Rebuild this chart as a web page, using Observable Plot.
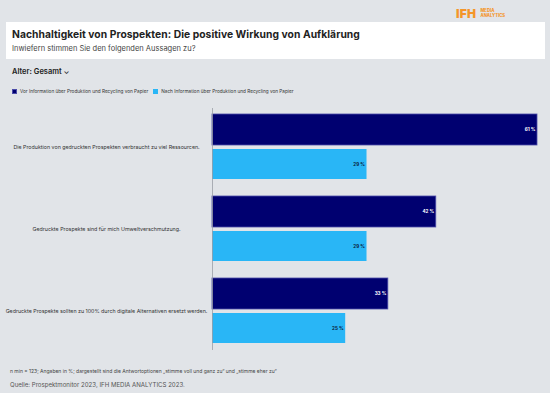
<!DOCTYPE html>
<html><head><meta charset="utf-8">
<script src="https://cdn.jsdelivr.net/npm/d3@7"></script>
<script src="https://cdn.jsdelivr.net/npm/@observablehq/plot@0.6"></script>
<style>
html,body{margin:0;padding:0;}
body{width:550px;height:393px;background:#e1e4e8;font-family:Inter,"Open Sans",sans-serif;color:#222;position:relative;overflow:hidden;}
.abs{position:absolute;white-space:nowrap;}
#logo{top:6px;left:456px;color:#f4952a;display:flex;align-items:center;}
#logo .ifh{font-weight:900;font-size:12px;letter-spacing:0.3px;}
#logo .ma{font-weight:800;font-size:4.2px;line-height:4.4px;margin-left:4px;}
#box{top:22px;left:6px;width:539px;height:37px;background:#fff;}
#title{top:28px;left:12px;font-size:10.3px;font-weight:700;color:#222;letter-spacing:0.05px;}
#sub{top:44px;left:12px;font-size:7.5px;color:#444;}
#alter{top:67px;left:12px;font-size:7.5px;font-weight:600;color:#222;}
#legend{top:88px;left:12px;font-size:4.7px;color:#333;display:flex;align-items:center;}
#legend .sw{width:5px;height:5px;display:inline-block;margin-right:3px;box-sizing:border-box;}
#legend .it{display:flex;align-items:center;margin-right:5px;}
#chart{top:100px;left:0;}
#note{top:368px;left:10px;font-size:5px;color:#444;}
#src{top:381px;left:10px;font-size:6.1px;color:#555;}
</style></head>
<body>
<div id="logo" class="abs"><span class="ifh">IFH</span><span class="ma">MEDIA<br>ANALYTICS</span></div>
<div id="box" class="abs"></div>
<div id="title" class="abs">Nachhaltigkeit von Prospekten: Die positive Wirkung von Aufklärung</div>
<div id="sub" class="abs">Inwiefern stimmen Sie den folgenden Aussagen zu?</div>
<div id="alter" class="abs">Alter: Gesamt &#8964;</div>
<div id="legend" class="abs"></div>
<div id="chart" class="abs"></div>
<div id="note" class="abs">n min = 123; Angaben in %; dargestellt sind die Antwortoptionen „stimme voll und ganz zu“ und „stimme eher zu“</div>
<div id="src" class="abs">Quelle: Prospektmonitor 2023, IFH MEDIA ANALYTICS 2023.</div>
<script>
const statements = [
  "Die Produktion von gedruckten Prospekten verbraucht zu viel Ressourcen.",
  "Gedruckte Prospekte sind für mich Umweltverschmutzung.",
  "Gedruckte Prospekte sollten zu 100% durch digitale Alternativen ersetzt werden."
];
const series = [
  "Vor Information über Produktion und Recycling von Papier",
  "Nach Information über Produktion und Recycling von Papier"
];
const before = [61, 42, 33];
const after = [29, 29, 25];
const colors = ["#000070", "#29b6f6"];
const strokes = ["#4b4ba8", "#29b6f6"];

const lg = document.getElementById("legend");
series.forEach((s, i) => {
  const it = document.createElement("span");
  it.className = "it";
  it.innerHTML = `<span class="sw" style="background:${colors[i]};border:0.6px solid ${strokes[i]}"></span>${s}`;
  lg.appendChild(it);
});

const dataBefore = statements.map((s, i) => ({statement: s, value: before[i]}));
const dataAfter = statements.map((s, i) => ({statement: s, value: after[i]}));

const chart = Plot.plot({
  width: 550,
  height: 255,
  marginLeft: 212,
  marginRight: 13,
  marginTop: 8,
  marginBottom: 5,
  style: {background: "transparent", fontFamily: "Inter, 'Open Sans', sans-serif"},
  x: {domain: [0, 61], axis: null},
  y: {domain: statements, axis: null, paddingInner: 0.207, paddingOuter: 0.079},
  marks: [
    Plot.barX(dataBefore, {x: "value", y: "statement", fill: colors[0], stroke: strokes[0], strokeWidth: 0.8, insetBottom: 34}),
    Plot.barX(dataAfter, {x: "value", y: "statement", fill: colors[1], insetTop: 35}),
    Plot.ruleX([0], {stroke: "#9a9ea6", strokeWidth: 0.8}),
    Plot.text(dataBefore, {x: "value", y: "statement", text: d => d.value + " %", textAnchor: "end", dx: -2, dy: -17, fill: "#fff", fontSize: 4.6, fontWeight: 700}),
    Plot.text(dataAfter, {x: "value", y: "statement", text: d => d.value + " %", textAnchor: "end", dx: -2, dy: 17.5, fill: "#0a1a3a", fontSize: 4.6, fontWeight: 700}),
    Plot.text(statements, {y: d => d, text: d => d, frameAnchor: "left", dx: -106, textAnchor: "middle", fill: "#333", fontSize: 5.3})
  ]
});
document.getElementById("chart").appendChild(chart);
</script>
</body></html>
